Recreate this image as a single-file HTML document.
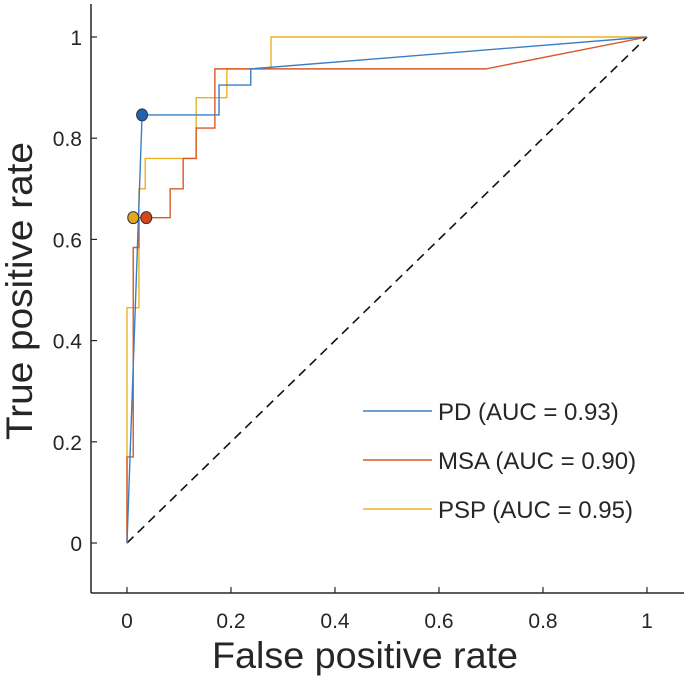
<!DOCTYPE html>
<html><head><meta charset="utf-8"><style>
body{margin:0;background:#fff;font-family:"Liberation Sans",Arial,sans-serif}
svg{display:block}
</style></head><body>
<svg id="chart" width="685" height="679">
<g id="axes"></g>
<g id="plot"></g>
<g id="legend"></g>
</svg>
<script>
const xTicks=[0,0.2,0.4,0.6,0.8,1];
const yTicks=[0,0.2,0.4,0.6,0.8,1];
const pdFpr=[0,0.029,0.177,0.177,0.238,0.238,1];
const pdTpr=[0,0.846,0.846,0.905,0.905,0.937,1];
const msaFpr=[0,0,0.012,0.012,0.023,0.023,0.083,0.083,0.108,0.108,0.133,0.133,0.169,0.169,0.69,1];
const msaTpr=[0,0.17,0.17,0.584,0.584,0.643,0.643,0.70,0.70,0.76,0.76,0.82,0.82,0.937,0.937,1];
const pspFpr=[0,0,0.023,0.023,0.035,0.035,0.133,0.133,0.192,0.192,0.277,0.277,1];
const pspTpr=[0,0.465,0.465,0.70,0.70,0.76,0.76,0.88,0.88,0.937,0.937,1,1];
const optPoints=[[0.029,0.846],[0.037,0.643],[0.012,0.643]];
const names=["PD (AUC = 0.93)","MSA (AUC = 0.90)","PSP (AUC = 0.95)"];
const colors=["#3a7fc4","#d9592b","#edb120"];
const dotColors=["#1f64b0","#d4461c","#e3a71f"];
const X=v=>127+520*v, Y=v=>543-506*v;
const NS="http://www.w3.org/2000/svg";
function mk(p,t,a){const e=document.createElementNS(NS,t);for(const k in a)e.setAttribute(k,a[k]);p.appendChild(e);return e;}
const ax=document.getElementById('axes'),pl=document.getElementById('plot'),lg=document.getElementById('legend');
let e=mk(ax,'line',{x1:91,y1:4,x2:91,y2:593,stroke:'#262626','stroke-width':1.5});

e=mk(ax,'line',{x1:91,y1:593,x2:684,y2:593,stroke:'#262626','stroke-width':1.5});

xTicks.forEach(t=>{
 let l=mk(ax,'line',{x1:X(t),x2:X(t),y1:593,y2:587,stroke:'#262626','stroke-width':1.2});
 
 let tx=mk(ax,'text',{x:X(t),y:628,'text-anchor':'middle','font-size':21,fill:'#262626'});tx.textContent=String(t);
 
});
yTicks.forEach(t=>{
 let l=mk(ax,'line',{x1:91,x2:97,y1:Y(t),y2:Y(t),stroke:'#262626','stroke-width':1.2});
 
 let tx=mk(ax,'text',{x:82,y:Y(t)+8,'text-anchor':'end','font-size':21,fill:'#262626'});tx.textContent=String(t);
 
});
e=mk(ax,'text',{x:365,y:668,'text-anchor':'middle','font-size':37,fill:'#262626',textLength:306,lengthAdjust:'spacingAndGlyphs'});e.textContent='False positive rate';

e=mk(ax,'text',{x:0,y:0,'text-anchor':'middle','font-size':37,fill:'#262626',textLength:298,lengthAdjust:'spacingAndGlyphs',transform:'translate(32,291) rotate(-90)'});e.textContent='True positive rate';

e=mk(pl,'line',{x1:X(0),y1:Y(0),x2:X(1),y2:Y(1),stroke:'#111','stroke-width':1.6,'stroke-dasharray':'9,6'});

const series=[[pdFpr,pdTpr],[msaFpr,msaTpr],[pspFpr,pspTpr]];
const sn=['pd-curve','msa-curve','psp-curve'];
[2,1,0].forEach(i=>{
 const [fx,fy]=series[i];
 let p=mk(pl,'polyline',{points:fx.map((v,j)=>X(v)+','+Y(fy[j])).join(' '),fill:'none',stroke:colors[i],'stroke-width':1.4});
 
});
optPoints.forEach((pt,i)=>{
 let c=mk(pl,'ellipse',{cx:X(pt[0]),cy:Y(pt[1]),rx:5.5,ry:6,fill:dotColors[i],stroke:'#333','stroke-width':1});
 
});
const legW=[205,220,208];
names.forEach((n,i)=>{
 const y=411+49*i;
 let l=mk(lg,'line',{x1:363,x2:432,y1:y,y2:y,stroke:colors[i],'stroke-width':1.4});
 
 let t=mk(lg,'text',{x:438,y:y+9,'font-size':24,fill:'#262626'});t.textContent=n;
 
});
</script>
</body></html>
